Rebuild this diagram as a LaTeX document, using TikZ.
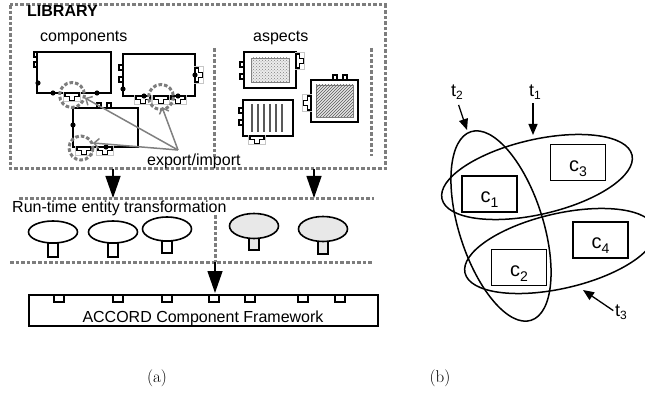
\documentclass[tikz,border=0pt]{standalone}
\usepackage{fontspec}
\newfontfamily\arial{Liberation Sans}
\usetikzlibrary{arrows.meta,patterns}
\newcommand\csub[1]{\raisebox{-5pt}{\fontsize{14}{14}\selectfont #1}}
\newcommand\tsub[1]{\raisebox{-3pt}{\fontsize{12}{12}\selectfont #1}}
\definecolor{dgray}{RGB}{125,125,125}
\begin{document}
\begin{tikzpicture}[x=1pt,y=-1pt,
  dsh/.style={draw=dgray, line width=3pt, dash pattern=on 3.6pt off 2pt},
  comp/.style={draw=black, line width=1.8pt, fill=white},
  sport/.style={draw=black, line width=1.3pt, fill=white},
  garrow/.style={draw=gray, line width=1.5pt, -{Straight Barb[length=5pt,width=10pt]}},
  bigarrow/.style={draw=black, line width=1.3pt, -{Triangle[length=22pt,width=15pt]}},
  tarrow/.style={draw=black, line width=1.3pt, -{Triangle[length=11pt,width=9pt]}},
  lbl/.style={font=\arial\fontsize{16}{18}\selectfont, inner sep=0pt},
  blbl/.style={font=\arial\bfseries\fontsize{16}{18}\selectfont, inner sep=0pt},
  clbl/.style={font=\arial\fontsize{20}{22}\selectfont, inner sep=0pt},
  tlbl/.style={font=\arial\fontsize{18}{20}\selectfont, inner sep=0pt},
  cbox/.style={draw=black, line width=1.6pt, minimum width=55pt, minimum height=36pt, inner sep=0pt},
  ell/.style={draw=black, line width=1.5pt},
  captxt/.style={font=\fontsize{17}{19}\selectfont, inner sep=0pt},
  tport/.pic={
    \draw[gray!45, line width=0.6pt] (-8.5,-0.5) rectangle (8.5,8.6);
    \draw[black, line width=1.3pt, fill=white] (-7,0) -- (-7,3.8) -- (-2.5,3.8) -- (-2.5,7.5) -- (2.5,7.5) -- (2.5,3.8) -- (7,3.8) -- (7,0) -- cycle;
  },
]
\useasboundingbox (0,0) rectangle (645,398);

% ---------------- LIBRARY ----------------
\draw[dsh] (10,5) rectangle (385,169);
\draw[dsh] (214,48) -- (214,157);
\draw[dsh] (371,48) -- (371,156);
\node[blbl, anchor=base west] (libt) at (27,17) {LIBRARY};
\node[lbl, anchor=base west] (compt) at (40,42) {components};
\node[lbl, anchor=base west] (aspt) at (253,42) {aspects};

% component 1
\draw[comp] (37,52) rectangle (111,93);
\draw[sport] (34,52) rectangle (37,57);
\draw[sport] (34,62) rectangle (37,67);
\pic at (72,93) {tport};
\fill (38,83) circle (2.6) (53,93) circle (2.6) (97,93) circle (2.6);

% component 2
\draw[comp] (123,54) rectangle (195,96);
\draw[sport] (119,65) rectangle (123,70);
\draw[sport] (119,77) rectangle (123,82);
\pic at (143,96) {tport};
\pic at (161,96) {tport};
\pic at (178,96) {tport};
\pic[rotate=90] at (195,75) {tport};
\fill (123,89) circle (2.6) (144,96) circle (2.6) (178,96) circle (2.6) (195,75) circle (2.6);

% component 3
\draw[comp] (73,108) rectangle (138,147);
\draw[sport] (97,103) rectangle (101,108);
\draw[sport] (107,103) rectangle (111,108);
\pic at (84,147) {tport};
\pic at (105,147) {tport};
\fill (73,125) circle (2.6) (106,147) circle (2.6);

% dashed circles
\draw[dsh] (72,95) circle (12.5);
\draw[dsh] (161,97) circle (12.5);
\draw[dsh] (81,148) circle (12);

% export/import arrows
\node[lbl, anchor=base west] (expt) at (147,166) {export/import};
\coordinate (ex) at (178,150);
\coordinate (ci1) at (85,98);
\coordinate (ci2) at (162,107);
\coordinate (ci3) at (93,143);
\draw[garrow] (ex) -- (ci1);
\draw[garrow] (ex) -- (ci2);
\draw[garrow] (ex) -- (ci3);

% aspect 1
\draw[comp] (244,52) rectangle (296,88);
\draw[draw=gray, line width=0.8pt, fill=gray!15, postaction={pattern=crosshatch dots, pattern color=gray}] (251,58) rectangle (289,82);
\draw[sport] (240,62) rectangle (244,67);
\draw[sport] (240,74) rectangle (244,79);
\pic[rotate=90] at (296,61) {tport};

% aspect 2
\draw[comp] (311,80) rectangle (358,122);
\draw[draw=gray, line width=0.8pt, fill=gray!20, postaction={pattern=north east lines, pattern color=gray!70!black}] (316,85) rectangle (353,117);
\draw[sport] (333,75) rectangle (337,80);
\draw[sport] (343,75) rectangle (347,80);
\pic[rotate=-90] at (311,103) {tport};

% aspect 3
\draw[comp] (243,100) rectangle (293,136);
\foreach \k in {0,...,5} {\draw[gray!70!black, line width=1.9pt] (252+6*\k,104) -- (252+6*\k,132);}
\draw[sport] (239,108) rectangle (243,113);
\draw[sport] (239,120) rectangle (243,125);
\pic at (257,136) {tport};

% big arrows
\coordinate (la1) at (113,169);
\coordinate (la2) at (113,198);
\coordinate (ra1) at (314,169);
\coordinate (ra2) at (314,198);
\draw[bigarrow] (la1) -- (la2);
\draw[bigarrow] (ra1) -- (ra2);

% ---------------- Run-time ----------------
\draw[dsh] (19,199) -- (374,199);
\draw[dsh] (10,262) -- (372,262);
\draw[dsh] (215,215) -- (215,262);
\node[lbl, anchor=base west] (rtt) at (12,213) {Run-time entity transformation};

\draw[sport, line width=1.6pt] (48,243) rectangle (58,257);
\draw[ell, line width=1.6pt, fill=white] (53,232) ellipse [x radius=24.5, y radius=11];
\draw[sport, line width=1.6pt] (108,243) rectangle (118,257);
\draw[ell, line width=1.6pt, fill=white] (113,232) ellipse [x radius=24.5, y radius=11];
\draw[sport, line width=1.6pt] (162,241) rectangle (172,253);
\draw[ell, line width=1.6pt, fill=white] (167,229) ellipse [x radius=24.5, y radius=12];
\draw[sport, line width=1.6pt, fill=gray!18] (249,238) rectangle (259,250);
\draw[ell, line width=1.6pt, fill=gray!18] (254,226) ellipse [x radius=24.5, y radius=12.5];
\draw[sport, line width=1.6pt, fill=gray!18] (318,241) rectangle (328,254);
\draw[ell, line width=1.6pt, fill=gray!18] (323,229) ellipse [x radius=24.5, y radius=12.5];

\coordinate (ba1) at (215,262);
\coordinate (ba2) at (215,293);
\draw[bigarrow] (ba1) -- (ba2);

% framework
\draw[line width=1.7pt] (29,295) rectangle (378,326);
\foreach \px in {59,118,167,214,250,303,340} {\draw[sport] (\px-5,295) rectangle (\px+5,302);}
\node[lbl, anchor=base] (fwt) at (203,322) {ACCORD Component Framework};

\node[captxt] (capa) at (157,378) {(a)};

% ---------------- (b) ----------------
\draw[ell, rotate around={17.7:(501,226)}] (501,226) ellipse [x radius=42, y radius=99];
\draw[ell, rotate around={13:(537,177)}] (537,177) ellipse [x radius=97.5, y radius=37.4];
\draw[ell, rotate around={13:(560,251)}] (560,251) ellipse [x radius=97.5, y radius=37.4];

\node[cbox] (c1) at (489.5,194) {};
\node[cbox] (c3) at (578,162.5) {};
\node[cbox] (c4) at (600.5,240) {};
\node[cbox] (c2) at (519,267.5) {};
\node[clbl, anchor=base] (c1l) at ([yshift=-9pt]c1.center) {c\csub{1}};
\node[clbl, anchor=base] (c3l) at ([yshift=-9pt]c3.center) {c\csub{3}};
\node[clbl, anchor=base] (c4l) at ([yshift=-8pt]c4.center) {c\csub{4}};
\node[clbl, anchor=base] (c2l) at ([yshift=-9pt]c2.center) {c\csub{2}};

\node[tlbl, anchor=base] (t2) at (457,97) {t\tsub{2}};
\node[tlbl, anchor=base] (t1) at (535,97) {t\tsub{1}};
\node[tlbl, anchor=base] (t3) at (621,316) {t\tsub{3}};
\coordinate (t2e) at (467,130);
\coordinate (t1e) at (533,135);
\coordinate (t3e) at (583,290);
\draw[tarrow, shorten <=5pt] (t2.south) -- (t2e);
\draw[tarrow, shorten <=3pt] (t1.south -| t1e) -- (t1e);
\draw[tarrow, shorten <=2pt] (t3.west) -- (t3e);

\node[captxt] (capb) at (440,378) {(b)};
\end{tikzpicture}
\end{document}
